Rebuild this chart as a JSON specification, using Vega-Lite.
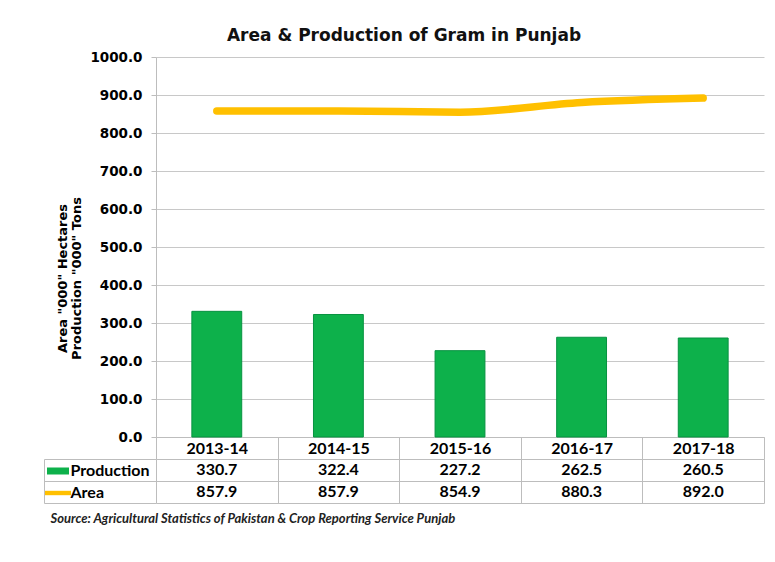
{
  "$schema": "https://vega.github.io/schema/vega-lite/v6.json",
  "padding": {"left": 43, "top": 27, "right": 8, "bottom": 8},
  "background": "white",
  "title": {"text": "Area & Production of Gram in Punjab", "font": "DejaVu Sans", "fontSize": 17, "fontWeight": "bold", "color": "#111111", "anchor": "middle", "frame": "bounds", "offset": 5},
  "datasets": {
    "gram": [
      {"year": "2013-14", "series": "Production", "value": 330.7},
      {"year": "2014-15", "series": "Production", "value": 322.4},
      {"year": "2015-16", "series": "Production", "value": 227.2},
      {"year": "2016-17", "series": "Production", "value": 262.5},
      {"year": "2017-18", "series": "Production", "value": 260.5},
      {"year": "2013-14", "series": "Area", "value": 857.9},
      {"year": "2014-15", "series": "Area", "value": 857.9},
      {"year": "2015-16", "series": "Area", "value": 854.9},
      {"year": "2016-17", "series": "Area", "value": 880.3},
      {"year": "2017-18", "series": "Area", "value": 892.0}
    ]
  },
  "bounds": "flush",
  "spacing": 22,
  "vconcat": [
    {
      "width": 608,
      "height": 380,
      "data": {"name": "gram"},
      "encoding": {
        "x": {"field": "year", "type": "nominal", "sort": null, "scale": {"paddingInner": 0, "paddingOuter": 0},
          "axis": {"title": null, "labelAngle": 0, "labelFont": "Lato", "labelFontSize": 16, "labelFontWeight": "bold", "labelColor": "#000000", "tickBand": "extent", "tickSize": 22, "tickColor": "#bdbdbd", "domainColor": "#bdbdbd", "labelPadding": -11, "labelBaseline": "middle"}},
        "y": {"field": "value", "type": "quantitative", "scale": {"domain": [0, 1000], "nice": false, "zero": true},
          "axis": {"title": ["Area \"000\" Hectares", "Production \"000\" Tons"], "tickCount": 10, "labelOverlap": false, "format": ".1f", "labelFont": "DejaVu Sans", "labelFontSize": 13.5, "labelFontWeight": "bold", "labelColor": "#000000", "tickSize": 5, "tickColor": "#bdbdbd", "domainColor": "#bdbdbd", "gridColor": "#c8c8c8", "labelPadding": 9, "titleFont": "DejaVu Sans", "titleFontSize": 13, "titleFontWeight": "bold", "titleColor": "#000000", "titlePadding": 6, "titleLineHeight": 14, "titleY": 221}}
      },
      "layer": [
        {
          "transform": [{"filter": "datum.series === 'Production'"}],
          "mark": {"type": "bar", "color": "#0DB14B", "stroke": "#079240", "strokeWidth": 1, "width": {"band": 0.41}}
        },
        {
          "transform": [{"filter": "datum.series === 'Area'"}],
          "mark": {"type": "line", "color": "#FFC000", "strokeWidth": 7.5, "interpolate": "monotone", "strokeCap": "round"}
        }
      ]
    },
    {
      "width": 608,
      "height": 44,
      "data": {"name": "gram"},
      "title": {"text": "Source: Agricultural Statistics of Pakistan & Crop Reporting Service Punjab", "orient": "bottom", "anchor": "start", "frame": "bounds", "font": "Lato", "fontSize": 13, "fontStyle": "italic", "fontWeight": "bold", "color": "#222222", "offset": 9, "dx": 7},
      "layer": [
        {
          "mark": {"type": "text", "font": "Lato", "fontSize": 16, "fontWeight": "bold", "color": "#000000"},
          "encoding": {
            "x": {"field": "year", "type": "nominal", "sort": null, "scale": {"paddingInner": 0, "paddingOuter": 0},
              "axis": {"title": null, "labels": false, "ticks": false, "domain": false, "grid": true, "tickBand": "extent", "gridColor": "#bdbdbd"}},
            "y": {"field": "series", "type": "nominal", "sort": ["Production", "Area"], "scale": {"paddingInner": 0, "paddingOuter": 0},
              "axis": {"title": null, "orient": "left", "tickBand": "extent", "tickSize": 112, "tickColor": "#bdbdbd", "domain": false, "grid": true, "gridColor": "#bdbdbd", "labelAlign": "left", "labelPadding": -26, "labelFont": "Lato", "labelFontSize": 16, "labelFontWeight": "bold", "labelColor": "#000000"}},
            "text": {"field": "value", "type": "quantitative", "format": ".1f"}
          }
        },
        {
          "mark": {"type": "text", "opacity": 0},
          "encoding": {
            "x": {"field": "year", "type": "nominal", "sort": null},
            "y": {"field": "series", "type": "nominal", "sort": ["Production", "Area"],
              "axis": {"title": null, "orient": "left", "offset": 112, "labels": false, "ticks": false, "grid": false, "domain": true, "domainColor": "#bdbdbd"}},
            "text": {"field": "value", "type": "quantitative", "format": ".1f"},
            "color": {"field": "series", "type": "nominal", "sort": ["Production", "Area"],
              "scale": {"domain": ["Production", "Area"], "range": ["#0DB14B", "#FFC000"]},
              "legend": {"title": null, "orient": "none", "legendX": -109, "legendY": 403, "padding": 0, "offset": 0, "symbolSize": 400, "rowPadding": 4, "labelExpr": "''", "labelFontSize": 1, "symbolOpacity": 1,
                "encode": {"symbols": {"update": {
                  "shape": {"signal": "datum.value === 'Area' ? 'M-1.3,-0.22L1.3,-0.22L1.3,0.22L-1.3,0.22Z' : 'M-1.1,-0.35L1.1,-0.35L1.1,0.35L-1.1,0.35Z'"},
                  "fill": {"signal": "datum.value === 'Area' ? '#FFC000' : '#0DB14B'"},
                  "stroke": {"value": "transparent"},
                  "opacity": {"value": 1},
                  "fillOpacity": {"value": 1}}}}}
            }
          }
        }
      ],
      "resolve": {"axis": {"y": "independent"}}
    }
  ],
  "config": {"view": {"stroke": null}}
}
